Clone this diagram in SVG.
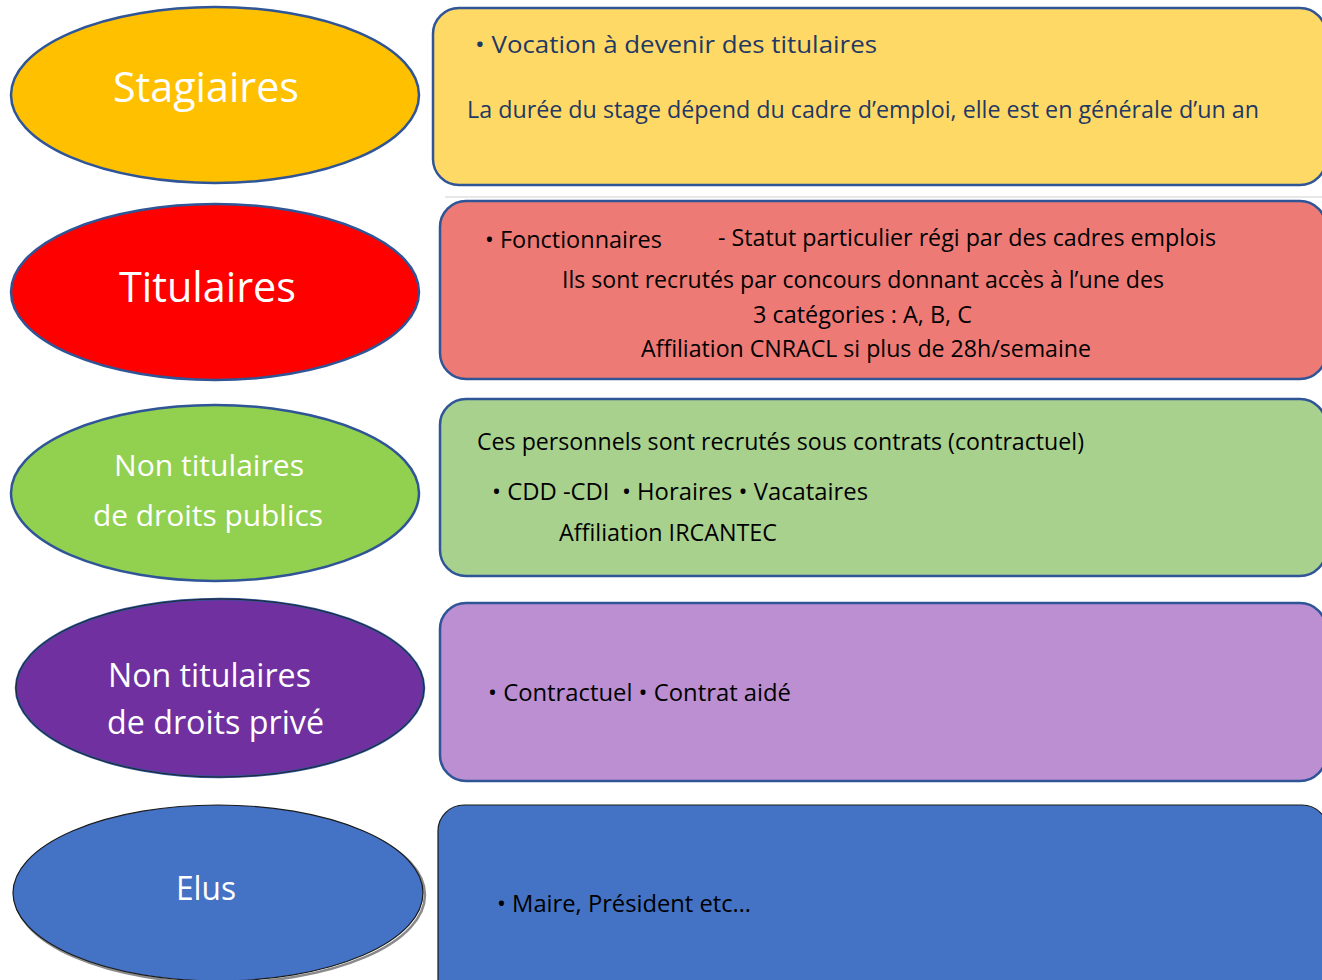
<svg xmlns="http://www.w3.org/2000/svg" width="1322" height="980" viewBox="0 0 1322 980">
<style>
.ell{stroke:#2F5597;stroke-width:2.5}
.box{stroke:#2F5597;stroke-width:2.5}
.lbl{font-family:"Open Sans","Liberation Sans",sans-serif;fill:#ffffff;text-anchor:start}
.txt{font-family:"Open Sans","Liberation Sans",sans-serif;fill:#000000;font-size:23px}
.navy{fill:#1F3864}
</style>
<rect width="1322" height="980" fill="#ffffff"/>
<g id="connectors"></g>

<g id="node-stagiaires">
<ellipse class="ell" cx="215" cy="95" rx="204" ry="88" fill="#FFC000"/>
<text class="lbl" x="113" y="102" font-size="42" textLength="186" lengthAdjust="spacingAndGlyphs">Stagiaires</text>
</g>
<g id="box-stagiaires">
<rect class="box" x="433" y="8" width="893" height="177" rx="26" fill="#FFD966"/>
<text class="txt navy" x="475" y="53" font-size="26" textLength="402" lengthAdjust="spacingAndGlyphs">• Vocation à devenir des titulaires</text>
<text class="txt navy" x="467" y="118" textLength="792" lengthAdjust="spacingAndGlyphs">La durée du stage dépend du cadre d’emploi, elle est en générale d’un an</text>
</g>

<g id="node-titulaires">
<ellipse class="ell" cx="215" cy="292" rx="204" ry="88" fill="#FF0000"/>
<text class="lbl" x="119" y="302" font-size="42" textLength="177" lengthAdjust="spacingAndGlyphs">Titulaires</text>
</g>
<g id="box-titulaires">
<line x1="445" y1="197" x2="1322" y2="197" stroke="#cfcfcf" stroke-width="1"/>
<rect class="box" x="440" y="201" width="886" height="178" rx="26" fill="#EE7A76"/>
<text class="txt" x="485" y="248" textLength="177" lengthAdjust="spacingAndGlyphs">• Fonctionnaires</text>
<text class="txt" x="718" y="246" textLength="498" lengthAdjust="spacingAndGlyphs">- Statut particulier régi par des cadres emplois</text>
<text class="txt" x="562" y="288" textLength="602" lengthAdjust="spacingAndGlyphs">Ils sont recrutés par concours donnant accès à l’une des</text>
<text class="txt" x="753" y="323" textLength="219" lengthAdjust="spacingAndGlyphs">3 catégories : A, B, C</text>
<text class="txt" x="641" y="357" textLength="450" lengthAdjust="spacingAndGlyphs">Affiliation CNRACL si plus de 28h/semaine</text>
</g>

<g id="node-public">
<ellipse class="ell" cx="215" cy="493" rx="204" ry="88" fill="#92D050"/>
<text class="lbl" x="114" y="476" font-size="30" textLength="190" lengthAdjust="spacingAndGlyphs">Non titulaires</text>
<text class="lbl" x="93" y="526" font-size="30" textLength="230" lengthAdjust="spacingAndGlyphs">de droits publics</text>
</g>
<g id="box-public">
<rect class="box" x="440" y="399" width="886" height="177" rx="26" fill="#A9D18E"/>
<text class="txt" x="477" y="450" textLength="607" lengthAdjust="spacingAndGlyphs">Ces personnels sont recrutés sous contrats (contractuel)</text>
<text class="txt" x="492" y="500" textLength="376" lengthAdjust="spacingAndGlyphs" xml:space="preserve">• CDD -CDI  • Horaires • Vacataires</text>
<text class="txt" x="559" y="541" textLength="218" lengthAdjust="spacingAndGlyphs">Affiliation IRCANTEC</text>
</g>

<g id="node-prive">
<ellipse cx="220" cy="688" rx="204" ry="89" fill="#7030A0" stroke="#2F5597" stroke-width="2.5"/>
<ellipse cx="220" cy="688" rx="204" ry="89" fill="none" stroke="#1a1a1a" stroke-width="0.8"/>
<text class="lbl" x="108" y="687" font-size="32" textLength="203" lengthAdjust="spacingAndGlyphs">Non titulaires</text>
<text class="lbl" x="107" y="734" font-size="32" textLength="217" lengthAdjust="spacingAndGlyphs">de droits privé</text>
</g>
<g id="box-prive">
<rect class="box" x="440" y="603" width="886" height="178" rx="26" fill="#BB8FD1"/>
<text class="txt" x="488" y="701" textLength="303" lengthAdjust="spacingAndGlyphs">• Contractuel • Contrat aidé</text>
</g>

<g id="node-elus">
<ellipse cx="220" cy="895" rx="205" ry="88" fill="none" stroke="#8a8a8a" stroke-width="2.5"/>
<ellipse cx="218" cy="893" rx="205" ry="88" fill="#4472C4" stroke="#1a1a1a" stroke-width="1.2"/>
<text class="lbl" x="176" y="900" font-size="32" textLength="60" lengthAdjust="spacingAndGlyphs">Elus</text>
</g>
<g id="box-elus">
<rect x="438" y="805" width="890" height="200" rx="26" fill="#4472C4" stroke="#1a1a1a" stroke-width="1.2"/>
<text class="txt" x="497" y="912" textLength="254" lengthAdjust="spacingAndGlyphs">• Maire, Président etc…</text>
</g>
</svg>
